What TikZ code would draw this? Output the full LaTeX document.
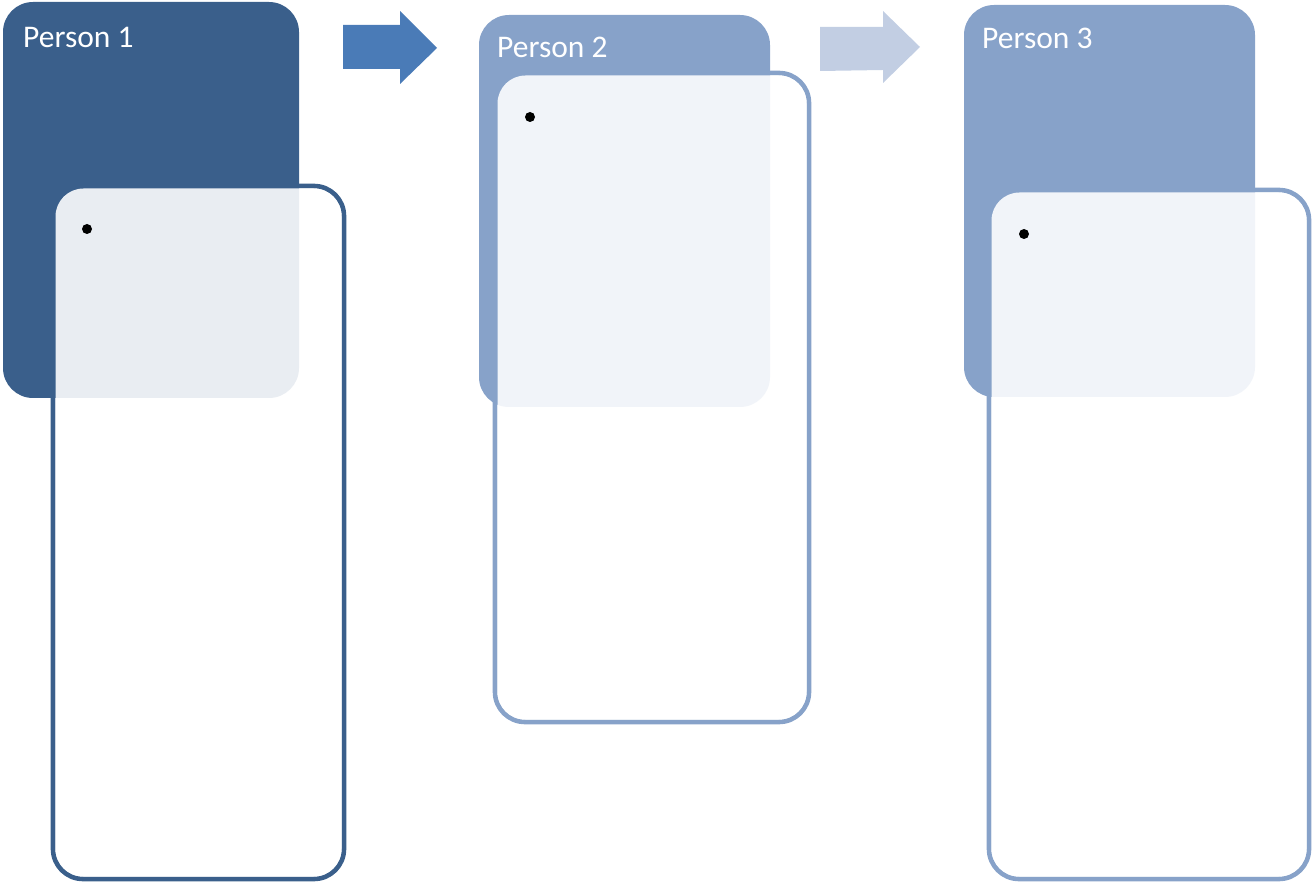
\documentclass[tikz,border=0pt]{standalone}
\usepackage{fontspec}
\setmainfont{Carlito}
\definecolor{darkblue}{HTML}{3A5F8B}
\definecolor{lightblue}{HTML}{87A2C9}
\definecolor{arrowA}{HTML}{4A7BB7}
\definecolor{arrowB}{HTML}{C2CEE3}
\begin{document}
\begin{tikzpicture}[x=1pt,y=-1pt,
  headbox/.style={rectangle, rounded corners=30pt, inner sep=0pt, outer sep=0pt, draw=none},
  listbox/.style={rectangle, rounded corners=30pt, inner sep=0pt, outer sep=0pt, line width=4.6pt, fill=white},
  veil/.style={rectangle, rounded corners=28pt, inner sep=0pt, outer sep=0pt, fill=white, fill opacity=0.89, draw=none},
  headtext/.style={anchor=base west, inner sep=0pt, text=white, font=\fontsize{31.5}{37}\selectfont},
  bulletdot/.style={circle, fill=black, inner sep=0pt, minimum size=10pt}
]
\useasboundingbox (0,0) rectangle (1312,882);

% ---- Person 1 ----
\node[listbox, draw=darkblue, minimum width=291pt, minimum height=693pt] (list1) at (198.5,532.5) {};
\node[headbox, fill=darkblue, minimum width=296pt, minimum height=396pt] (head1) at (151,200) {};
\node[veil, minimum width=286pt, minimum height=688pt] (veil1) at (198.5,532.5) {};
\node[headtext] (title1) at (23,48) {Person 1};
\node[bulletdot] (bul1) at (87,229) {};

% ---- Person 2 ----
\node[listbox, draw=lightblue, minimum width=314pt, minimum height=649pt] (list2) at (652,397.5) {};
\node[headbox, fill=lightblue, minimum width=291pt, minimum height=392pt] (head2) at (624.5,211) {};
\node[veil, minimum width=309pt, minimum height=644pt] (veil2) at (652,397.5) {};
\node[headtext] (title2) at (497,58) {Person 2};
\node[bulletdot] (bul2) at (530,117) {};

% ---- Person 3 ----
\node[listbox, draw=lightblue, minimum width=320pt, minimum height=689pt] (list3) at (1149,534.5) {};
\node[headbox, fill=lightblue, minimum width=291pt, minimum height=392pt] (head3) at (1109.5,201) {};
\node[veil, minimum width=315pt, minimum height=684pt] (veil3) at (1149,534.5) {};
\node[headtext] (title3) at (982,49) {Person 3};
\node[bulletdot] (bul3) at (1024,234) {};

% ---- flow arrows ----
\fill[arrowA] (343,25) -- (400,25) -- (400,11) -- (437,48) -- (400,84) -- (400,69) -- (343,69) -- cycle;
\fill[arrowB] (820,27) -- (883,27) -- (883,11) -- (920,47) -- (883,83) -- (883,70) -- (820,71) -- cycle;
\end{tikzpicture}
\end{document}
